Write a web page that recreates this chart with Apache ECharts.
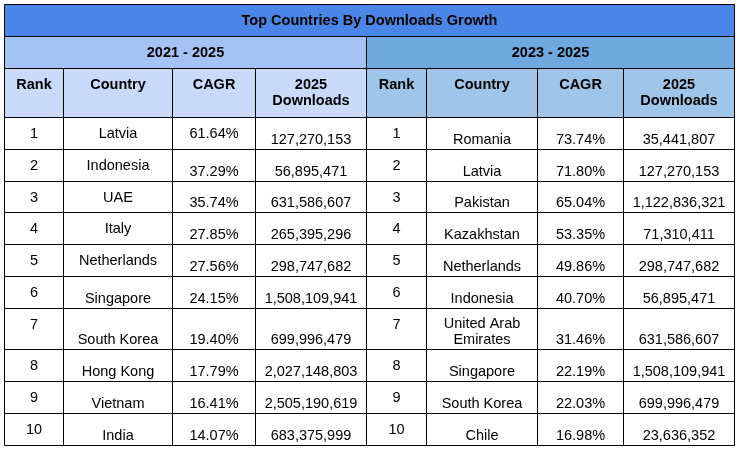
<!DOCTYPE html>
<html>
<head>
<meta charset="utf-8">
<script src="https://cdn.jsdelivr.net/npm/echarts@6/dist/echarts.min.js"></script>
<style>
html,body{margin:0;padding:0;background:#fff;}
#chart{width:737px;height:450px;}
</style>
</head>
<body>
<div id="chart"></div>
<script>
// ---- data ----
const tableTitle = 'Top Countries By Downloads Growth';
const periods = ['2021 - 2025', '2023 - 2025'];
const headers = ['Rank', 'Country', 'CAGR', '2025\nDownloads'];
const ranks = [1, 2, 3, 4, 5, 6, 7, 8, 9, 10];

const countriesA = ['Latvia', 'Indonesia', 'UAE', 'Italy', 'Netherlands', 'Singapore', 'South Korea', 'Hong Kong', 'Vietnam', 'India'];
const cagrA = [61.64, 37.29, 35.74, 27.85, 27.56, 24.15, 19.40, 17.79, 16.41, 14.07];
const downloadsA = [127270153, 56895471, 631586607, 265395296, 298747682, 1508109941, 699996479, 2027148803, 2505190619, 683375999];

const countriesB = ['Romania', 'Latvia', 'Pakistan', 'Kazakhstan', 'Netherlands', 'Indonesia', 'United Arab\nEmirates', 'Singapore', 'South Korea', 'Chile'];
const cagrB = [73.74, 71.80, 65.04, 53.35, 49.86, 40.70, 31.46, 22.19, 22.03, 16.98];
const downloadsB = [35441807, 127270153, 1122836321, 71310411, 298747682, 56895471, 631586607, 1508109941, 699996479, 23636352];

// ---- layout / style (not data) ----
const colEdges = [4.5, 63.5, 172.5, 255.5, 366.5, 426.5, 537.5, 623.5, 734.5];
const rowEdges = [4.5, 36.5, 68.5, 117.5, 149.5, 181.5, 212.5, 244.5, 276.5, 308.5, 349.5, 381.5, 413.5, 445.5];
const colors = {
  title: '#4a86e8',
  periodA: '#a4c2f4', periodB: '#6fa8dc',
  headA: '#c9daf8', headB: '#9fc5e8',
  body: '#ffffff'
};
// cells in left table whose text sits at the top of the cell (others sit at the bottom)
const topAlignedA = { 1: [0, 1, 2, 3, 4], 2: [0] };
const FONT = '"Liberation Sans", Arial, sans-serif';
const FS = 14.5;

function fmtPct(v) { return v.toFixed(2) + '%'; }
function fmtNum(v) { return v.toLocaleString('en-US'); }

// build cell list
const cells = [];
cells.push({ c0: 0, c1: 8, r: 0, text: tableTitle, fill: colors.title, bold: true, va: 'middle' });
cells.push({ c0: 0, c1: 4, r: 1, text: periods[0], fill: colors.periodA, bold: true, va: 'middle' });
cells.push({ c0: 4, c1: 8, r: 1, text: periods[1], fill: colors.periodB, bold: true, va: 'middle' });
headers.forEach((h, i) => {
  cells.push({ c0: i, c1: i + 1, r: 2, text: h, fill: colors.headA, bold: true, va: 'top' });
  cells.push({ c0: 4 + i, c1: 5 + i, r: 2, text: h, fill: colors.headB, bold: true, va: 'top' });
});
ranks.forEach((rk, i) => {
  const rowA = [String(rk), countriesA[i], fmtPct(cagrA[i]), fmtNum(downloadsA[i])];
  const rowB = [String(rk), countriesB[i], fmtPct(cagrB[i]), fmtNum(downloadsB[i])];
  rowA.forEach((t, c) => {
    let va = 'bottom';
    if (c === 0) va = 'top';
    else if (topAlignedA[c] && topAlignedA[c].indexOf(i) >= 0) va = 'top';
    cells.push({ c0: c, c1: c + 1, r: 3 + i, text: t, fill: colors.body, bold: false, va: va });
  });
  rowB.forEach((t, c) => {
    cells.push({ c0: 4 + c, c1: 5 + c, r: 3 + i, text: t, fill: colors.body, bold: false, va: c === 0 ? 'top' : 'bottom' });
  });
});

const chart = echarts.init(document.getElementById('chart'), null, { renderer: 'canvas' });
chart.setOption({
  animation: false,
  backgroundColor: '#ffffff',
  grid: { left: 0, right: 0, top: 0, bottom: 0 },
  xAxis: { type: 'value', min: 0, max: 737, show: false },
  yAxis: { type: 'value', min: 0, max: 450, inverse: true, show: false },
  series: [{
    type: 'custom',
    data: cells.map((c, i) => [i, i]),
    renderItem: function (params, api) {
      const cell = cells[api.value(0)];
      const p0 = api.coord([colEdges[cell.c0], rowEdges[cell.r]]);
      const p1 = api.coord([colEdges[cell.c1], rowEdges[cell.r + 1]]);
      const x = p0[0], y = p0[1], w = p1[0] - p0[0], h = p1[1] - p0[1];
      let ty, tva;
      if (cell.va === 'middle') { ty = y + h / 2 + 0.5; tva = 'middle'; }
      else if (cell.va === 'top') { ty = y + 8.5; tva = 'top'; }
      else { ty = y + h - 2; tva = 'bottom'; }
      return {
        type: 'group',
        children: [
          { type: 'rect', shape: { x: x, y: y, width: w, height: h },
            style: { fill: cell.fill, stroke: '#000000', lineWidth: 1 } },
          { type: 'text', x: x + w / 2, y: ty,
            style: { text: cell.text, align: 'center', verticalAlign: tva,
              font: (cell.bold ? 'bold ' : '') + FS + 'px ' + FONT,
              fill: '#000000', lineHeight: 16 } }
        ]
      };
    }
  }]
});
</script>
</body>
</html>
